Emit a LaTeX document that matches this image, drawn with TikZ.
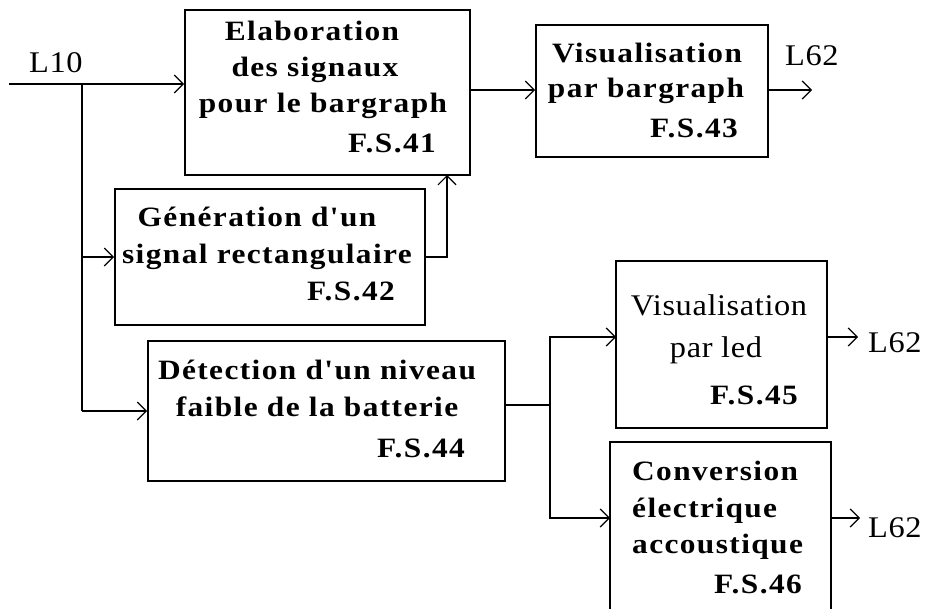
\documentclass[tikz,border=0pt]{standalone}
\usepackage{fontspec}
\setmainfont{Liberation Serif}
\newfontfamily\blockfont[FakeStretch=1.12, LetterSpace=5]{Liberation Serif}
\newfontfamily\plainfont[FakeStretch=1.08, LetterSpace=2]{Liberation Serif}
\usetikzlibrary{arrows.meta}
\begin{document}
\begin{tikzpicture}[x=1pt,y=-1pt,
  block/.style={draw, line width=1.8pt, inner sep=0pt},
  wire/.style={line width=1.4pt},
  arr/.style={wire, -{Straight Barb[length=9pt,width=18pt,line width=1.2pt]}},
  lbl/.style={inner sep=0pt, anchor=base, font=\blockfont\fontsize{28}{32}\selectfont\bfseries},
  lblr/.style={inner sep=0pt, anchor=base, font=\plainfont\fontsize{30}{34}\selectfont},
  fs/.style={lbl, anchor=base east},
  sig/.style={inner sep=0pt, anchor=base west, font=\plainfont\fontsize{30}{34}\selectfont}]
\useasboundingbox[fill=white] (0,0) rectangle (928,608);
\begin{scope}
\clip (0,0) rectangle (928,608);

% function blocks
\node[block, minimum width=285pt, minimum height=165pt] (b41) at (327.5,92.5) {};
\node[block, minimum width=232pt, minimum height=132pt] (b43) at (652,91) {};
\node[block, minimum width=310pt, minimum height=136pt] (b42) at (270,257) {};
\node[block, minimum width=357pt, minimum height=140pt] (b44) at (326.5,411) {};
\node[block, minimum width=211pt, minimum height=167pt] (b45) at (721.5,344.5) {};
\node[block, minimum width=221pt, minimum height=183pt] (b46) at (720.5,533.5) {};

% block texts
\node[lbl] (t41a) at (312,40) {Elaboration};
\node[lbl] (t41b) at (315,76) {des signaux};
\node[lbl] (t41c) at (323,112) {pour le bargraph};
\node[fs]  (t41d) at (436,152) {F.S.41};

\node[lbl] (t43a) at (647,62) {Visualisation};
\node[lbl] (t43b) at (646,97) {par bargraph};
\node[fs]  (t43c) at (738,137) {F.S.43};

\node[lbl] (t42a) at (257,226) {Génération d'un};
\node[lbl] (t42b) at (267,263) {signal rectangulaire};
\node[fs]  (t42c) at (395,300) {F.S.42};

\node[lbl] (t44a) at (317,379) {Détection d'un niveau};
\node[lbl] (t44b) at (317,416) {faible de la batterie};
\node[fs]  (t44c) at (465,457) {F.S.44};

\node[lblr] (t45a) at (719,315) {Visualisation};
\node[lblr] (t45b) at (716,357) {par led};
\node[fs]   (t45c) at (798,404) {F.S.45};

\node[lbl, anchor=base west] (t46a) at (632,480) {Conversion};
\node[lbl, anchor=base west] (t46b) at (632,517) {électrique};
\node[lbl, anchor=base west] (t46c) at (632,553) {accoustique};
\node[fs] (t46d) at (802,593) {F.S.46};

% signal names
\node[sig] (l10) at (29,72) {L10};
\node[sig] (l62a) at (785,65) {L62};
\node[sig] (l62b) at (868,352) {L62};
\node[sig] (l62c) at (868,537) {L62};

% connection points
\coordinate (in) at (9,84);
\coordinate (br) at (82,84);
\coordinate (o43) at (812,90);
\coordinate (j41) at (447,175);
\coordinate (o44) at (505,405);
\coordinate (sp) at (550,405);
\coordinate (i45) at (616,337);
\coordinate (i46) at (610,518);
\coordinate (o45) at (858,337);
\coordinate (o46) at (860,518);

% connectors
\draw[arr] (in) -- (in -| b41.west);
\draw[wire] (br) -- (br |- b44.west);
\draw[arr] (br |- b42.west) -- (b42.west);
\draw[arr] (br |- b44.west) -- (b44.west);
\draw[arr] (b42.east) -| (j41);
\draw[arr] (b41.east |- o43) -- (b43.west |- o43);
\draw[arr] (b43.east |- o43) -- (o43);
\draw[wire] (o44) -- (sp);
\draw[arr] (sp) |- (i45);
\draw[arr] (sp) |- (i46);
\draw[arr] (b45.east |- o45) -- (o45);
\draw[arr] (b46.east |- o46) -- (o46);
\end{scope}
\end{tikzpicture}
\end{document}
